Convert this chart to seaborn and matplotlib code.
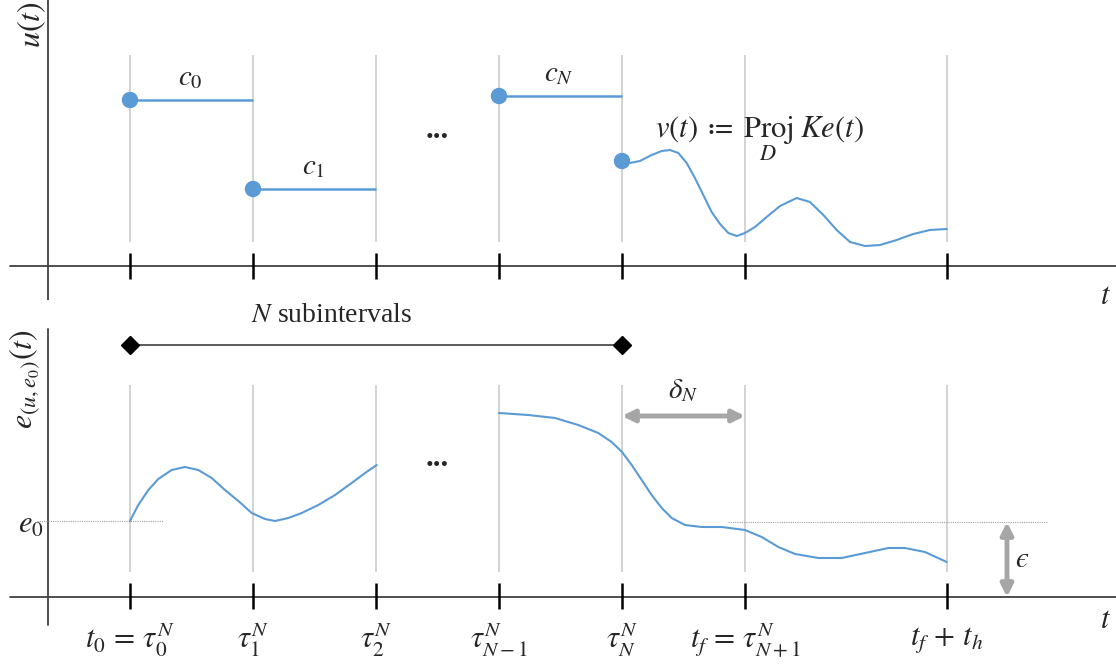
import numpy as np
import seaborn as sns
import matplotlib
matplotlib.use("Agg")
import matplotlib.pyplot as plt

# time grid (tick positions)
tick_t = [0, 1, 2, 3, 4, 5, 6.64]
tick_labels = [r"$t_0\, =\, \tau_0^N$", r"$\tau_1^N$", r"$\tau_2^N$", r"$\tau_{N-1}^N$",
               r"$\tau_N^N$", r"$t_f\, =\, \tau_{N+1}^N$", r"$t_f\, +\, t_h$"]

# piecewise constant controls
step_start = [0, 1, 3]
step_end = [1, 2, 4]
step_value = [1.66, 0.77, 1.70]
step_labels = [r"$c_0$", r"$c_1$", r"$c_N$"]

# v(t) after tau_N
v_t = [4.0, 4.065, 4.146, 4.241, 4.323, 4.390, 4.458, 4.526, 4.593, 4.661,
       4.729, 4.797, 4.864, 4.933, 5.0, 5.081, 5.176, 5.285, 5.420, 5.528,
       5.637, 5.745, 5.854, 5.976, 6.098, 6.233, 6.368, 6.504, 6.640]
v_u = [1.05, 1.03, 1.05, 1.11, 1.15, 1.16, 1.13, 1.03, 0.88, 0.71,
       0.54, 0.42, 0.33, 0.30, 0.33, 0.39, 0.49, 0.60, 0.68, 0.64,
       0.51, 0.36, 0.24, 0.20, 0.21, 0.26, 0.32, 0.36, 0.37]

# error trajectory, first part (t0 .. tau_2)
e1_t = [0, 0.067, 0.149, 0.230, 0.339, 0.447, 0.555, 0.664, 0.772, 0.881,
        0.989, 1.098, 1.179, 1.287, 1.396, 1.531, 1.667, 1.802, 1.911, 2.006]
e1_v = [0.76, 0.92, 1.07, 1.18, 1.27, 1.30, 1.27, 1.19, 1.07, 0.96,
        0.84, 0.78, 0.76, 0.79, 0.84, 0.92, 1.02, 1.14, 1.24, 1.32]

# error trajectory, last part (tau_{N-1} .. tf+th)
e2_t = [3.0, 3.238, 3.455, 3.645, 3.807, 3.916, 4.0, 4.079, 4.160, 4.241,
        4.323, 4.404, 4.512, 4.648, 4.811, 5.0, 5.136, 5.271, 5.407, 5.596,
        5.786, 5.976, 6.165, 6.301, 6.463, 6.640]
e2_v = [1.84, 1.82, 1.79, 1.72, 1.64, 1.55, 1.45, 1.32, 1.17, 1.02,
        0.89, 0.79, 0.72, 0.70, 0.70, 0.67, 0.60, 0.50, 0.43, 0.39,
        0.39, 0.44, 0.49, 0.49, 0.45, 0.35]

e0 = 0.76
eps_level = 0.75

BLUE = "#5B9BD5"
GRID = "#C8C8C8"
AXIS = "#404040"
ARROW = "#A6A6A6"

sns.set_theme(style="white")
plt.rcParams["font.family"] = ["Liberation Serif", "DejaVu Serif"]
plt.rcParams["mathtext.fontset"] = "stix"

fig = plt.figure(figsize=(11.16, 6.65), dpi=100)
xlim = (-130 / 123, 986 / 123)
ax_top = fig.add_axes([0, 365 / 665, 1, 300 / 665])
ax_bot = fig.add_axes([0, 0, 1, 365 / 665])
ax_top.set_xlim(*xlim)
ax_bot.set_xlim(*xlim)
ax_top.set_ylim(-0.34, 2.66)
ax_bot.set_ylim(-0.68, 2.97)
for ax in (ax_top, ax_bot):
    ax.axis("off")

fs = 22
y_axis_t = -0.667
x_start = -0.976
curve_kw = dict(sort=False, estimator=None, color=BLUE, lw=1.5, zorder=3,
                solid_joinstyle="round", solid_capstyle="round")

# ---- top panel: u(t)
ax = ax_top
ax.plot([x_start, xlim[1]], [0, 0], color=AXIS, lw=1.3, zorder=1)
ax.plot([y_axis_t, y_axis_t], [-0.34, 2.66], color=AXIS, lw=1.3, zorder=1)
ax.vlines(tick_t, 0.24, 2.11, color=GRID, lw=1.1, zorder=0)
ax.vlines(tick_t, -0.13, 0.13, color="black", lw=1.8, zorder=2)
ax.hlines(step_value, step_start, step_end, color=BLUE, lw=1.8, zorder=3)
sns.lineplot(x=v_t, y=v_u, ax=ax, **curve_kw)
sns.scatterplot(x=step_start + [v_t[0]], y=step_value + [v_u[0]], ax=ax,
                s=140, color=BLUE, edgecolor="none", zorder=4)
for s, e, v, lab in zip(step_start, step_end, step_value, step_labels):
    ax.text((s + e) / 2 - 0.01, v + 0.22, lab, ha="center", va="center", fontsize=fs - 1)
ax.text(2.5, 1.36, "...", ha="center", va="center", fontsize=fs, fontweight="bold")
ax.text(5.12, 1.36, r"$v(t)\; \coloneq \;\mathrm{Proj}\;Ke(t)$", ha="center", va="center", fontsize=fs)
ax.text(5.19, 1.10, r"$D$", ha="center", va="center", fontsize=fs - 6)
ax.text(-0.80, 2.41, r"$u(t)$", ha="center", va="center", fontsize=fs + 1, rotation=90)
ax.text(7.93, -0.31, r"$t$", ha="center", va="center", fontsize=fs)

# ---- bottom panel: e(t)
ax = ax_bot
ax.plot([x_start, xlim[1]], [0, 0], color=AXIS, lw=1.3, zorder=1)
ax.plot([y_axis_t, y_axis_t], [-0.28, 2.68], color=AXIS, lw=1.3, zorder=1)
ax.vlines(tick_t, 0.25, 2.12, color=GRID, lw=1.1, zorder=0)
ax.vlines(tick_t, -0.12, 0.14, color="black", lw=1.8, zorder=2)
sns.lineplot(x=e1_t, y=e1_v, ax=ax, **curve_kw)
sns.lineplot(x=e2_t, y=e2_v, ax=ax, **curve_kw)
ax.plot([-0.756, 0.268], [e0, e0], color="#A0A0A0", lw=0.8, ls=(0, (1, 1)), zorder=1)
ax.plot([4.86, 7.46], [eps_level, eps_level], color="#A0A0A0", lw=0.8, ls=(0, (1, 1)), zorder=1)

# N subintervals bracket
ax.plot([tick_t[0], tick_t[4]], [2.52, 2.52], color=AXIS, lw=1.2, marker="D",
        markersize=9, markerfacecolor="black", markeredgecolor="black", zorder=3)
ax.text(1.64, 2.82, r"$N$ subintervals", ha="center", va="center", fontsize=fs - 2)

# delta_N arrow
ax.annotate("", xy=(tick_t[5], 1.81), xytext=(tick_t[4], 1.81),
            arrowprops=dict(arrowstyle="<|-|>", color=ARROW, lw=3.5, mutation_scale=18,
                            shrinkA=0, shrinkB=0))
ax.text(4.5, 2.06, r"$\delta_N$", ha="center", va="center", fontsize=fs - 1)

# epsilon arrow
ax.annotate("", xy=(7.13, 0.0), xytext=(7.13, eps_level),
            arrowprops=dict(arrowstyle="<|-|>", color=ARROW, lw=3.5, mutation_scale=18,
                            shrinkA=0, shrinkB=0))
ax.text(7.25, 0.37, "$\u03f5$", ha="center", va="center", fontsize=fs - 1)

ax.text(2.5, 1.38, "...", ha="center", va="center", fontsize=fs, fontweight="bold")
ax.text(-0.86, 2.18, r"$e_{(u,e_0)}(t)$", ha="center", va="center", fontsize=fs + 1, rotation=90)
ax.text(-0.81, 0.72, r"$e_0$", ha="center", va="center", fontsize=fs)
ax.text(7.93, -0.23, r"$t$", ha="center", va="center", fontsize=fs)
for t, lab in zip(tick_t, tick_labels):
    ax.text(t, -0.43, lab, ha="center", va="center", fontsize=fs)

fig.savefig("out.png", dpi=100, facecolor="white")
